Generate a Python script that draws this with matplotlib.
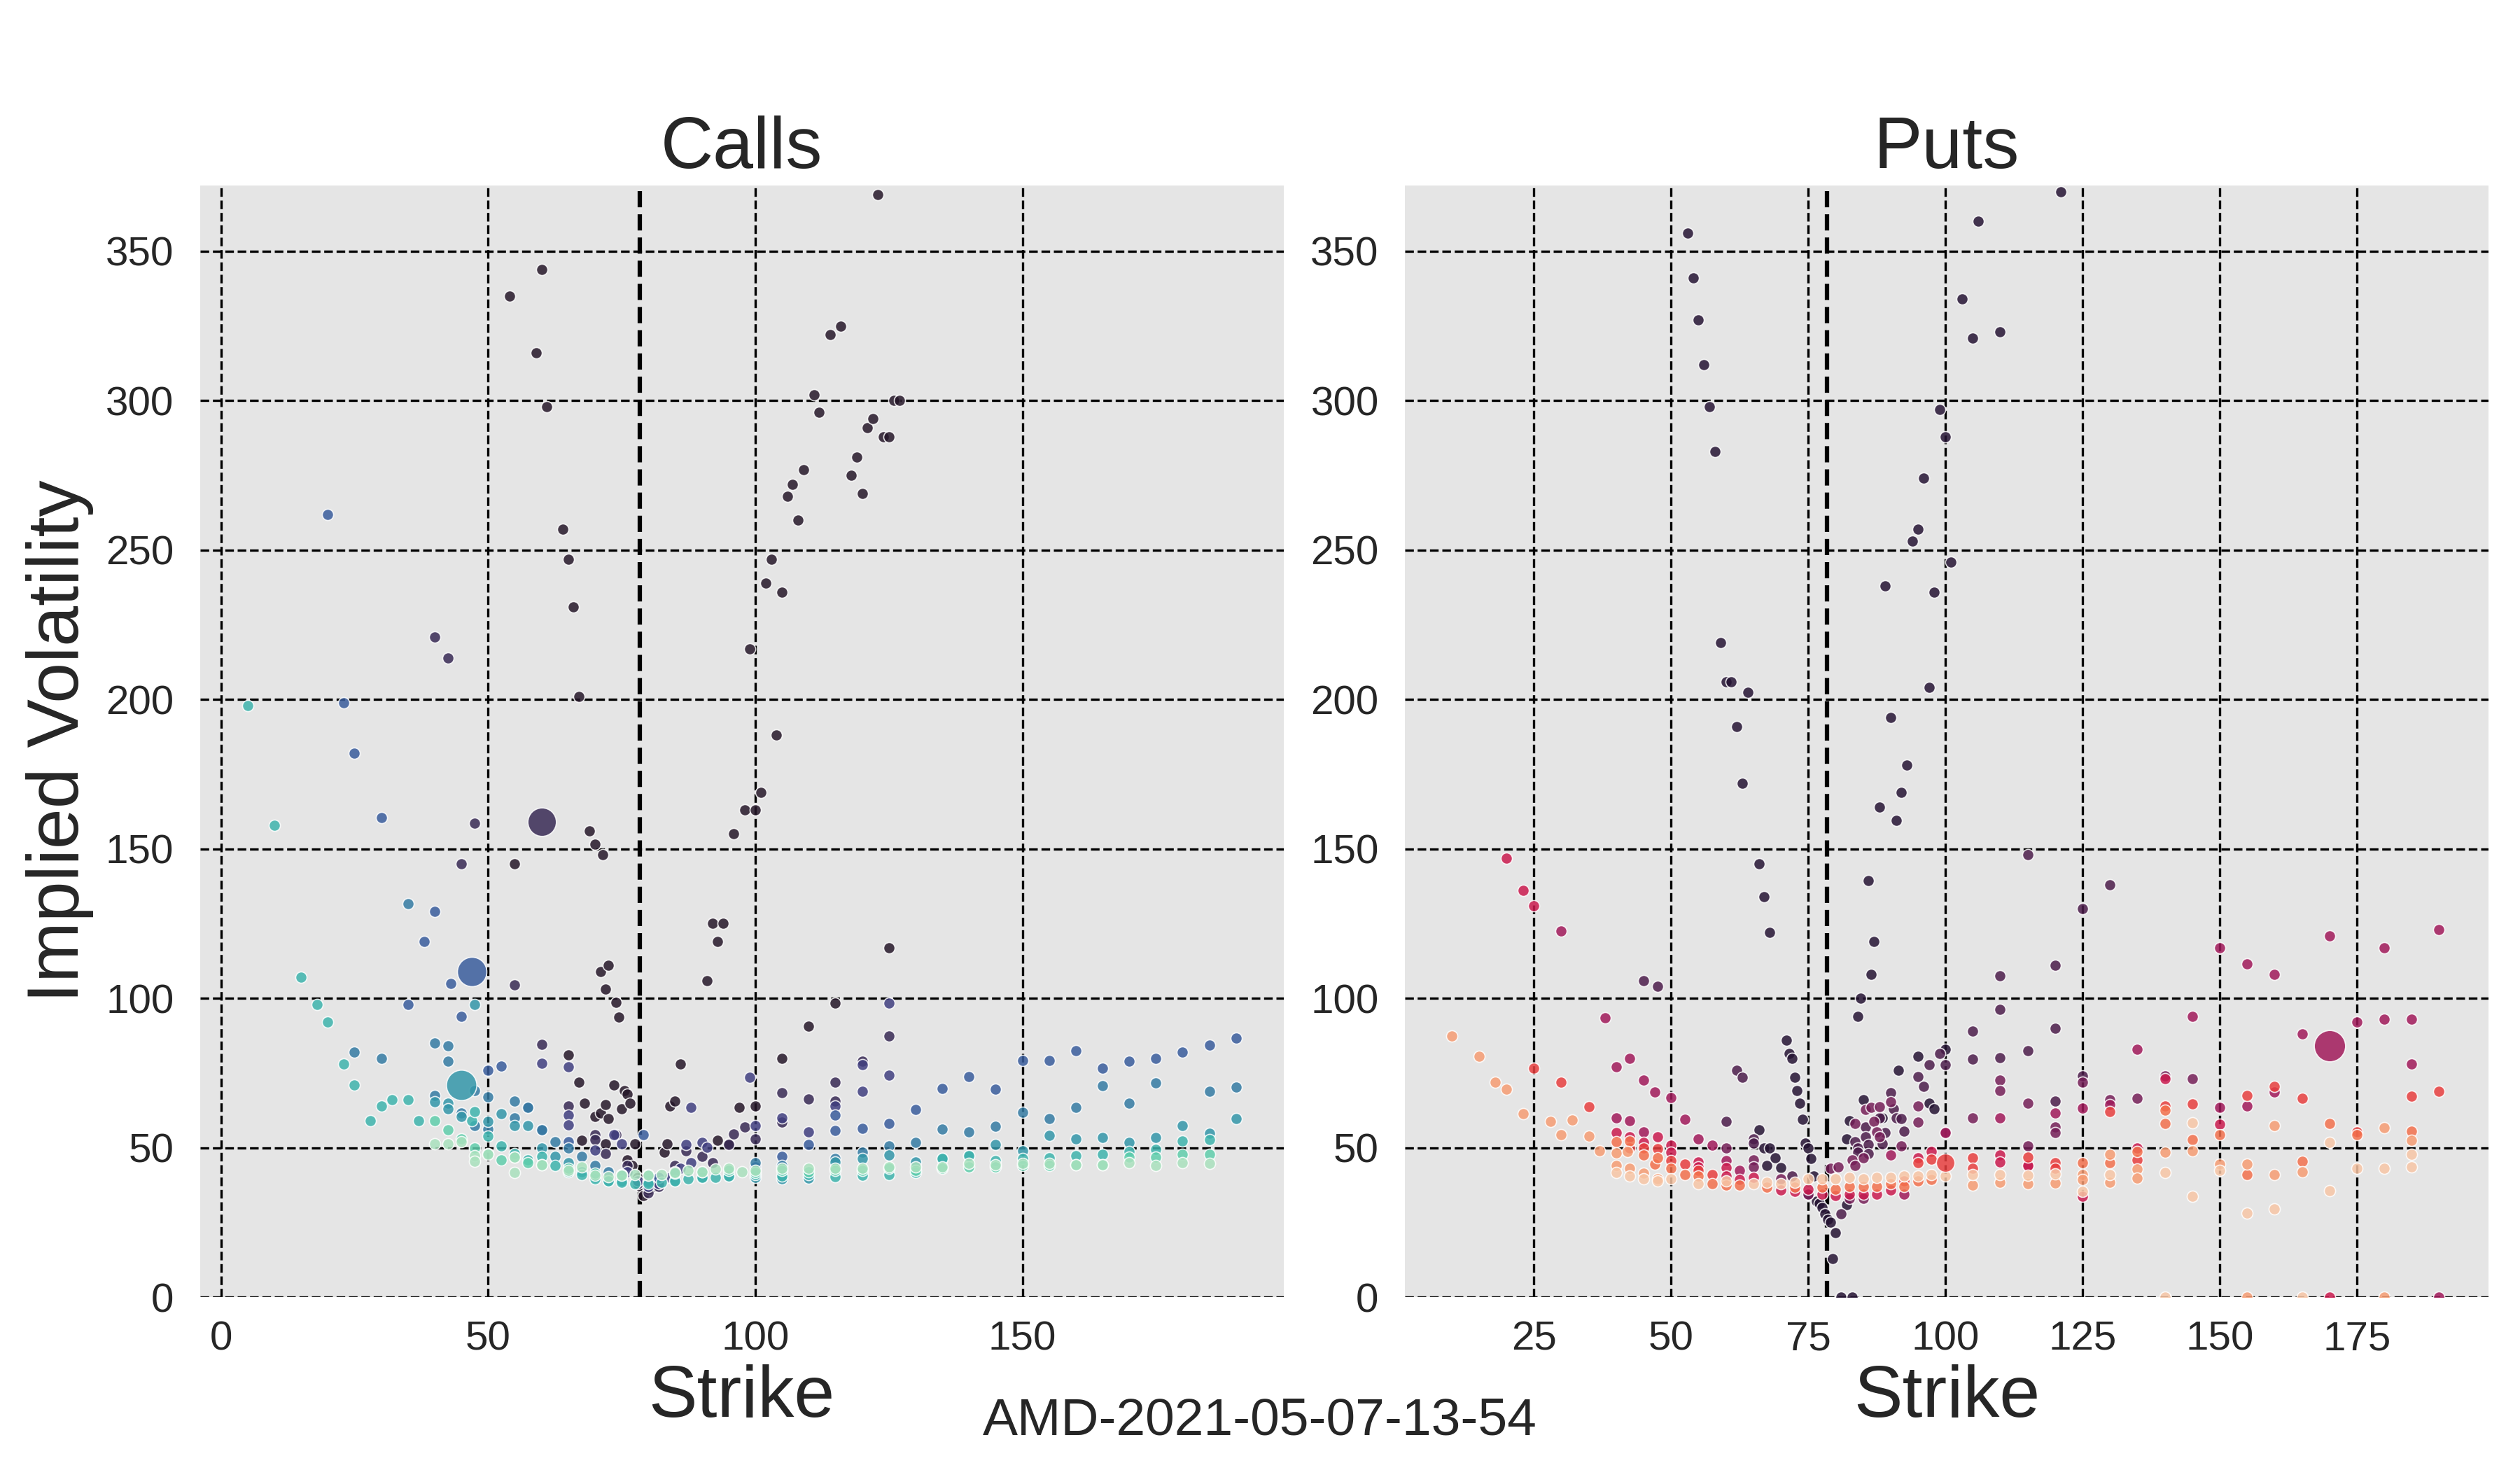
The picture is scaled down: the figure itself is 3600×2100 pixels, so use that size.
import matplotlib
matplotlib.use("Agg")
import matplotlib.pyplot as plt
import seaborn as sns
from matplotlib.colors import Normalize

plt.rcParams['font.family'] = ['Liberation Sans', 'DejaVu Sans']

snapshot = 'AMD-2021-05-07-13-54'
underlying = 78.4
expiries = ['2021-05-07', '2021-05-14', '2021-05-21', '2021-06-18', '2021-07-16',
            '2021-09-17', '2022-01-21', '2022-06-17', '2023-01-20']

# ---- calls, one strike / iv list per expiry ----
call_k0 = [54, 55, 59, 60, 61, 64, 65, 65, 66, 67, 67, 67.5, 68, 69, 70, 70, 71, 71, 71.5, 72,
           72, 72, 72.5, 72.5, 73.5, 74, 74.5, 75, 75.5, 76, 76, 76.5, 77, 77.5, 78, 78.5, 79, 80, 81, 82,
           83, 83.5, 84, 85, 86, 91, 92, 93, 93, 94, 95, 96, 97, 98, 99, 100, 100, 101, 102, 103,
           104, 105, 105, 106, 107, 108, 109, 110, 111, 112, 114, 115, 116, 118, 119, 120, 121, 122, 123, 124,
           125, 125, 126, 127]
call_iv0 = [335, 145, 316, 344, 298, 257, 247, 81, 231, 201, 72, 52.5, 65, 156, 151.5, 60.4, 109, 61.6, 148, 103,
            64.5, 51.4, 111, 59.8, 71, 98.6, 93.6, 63, 69, 68, 46, 65, 44, 51.4, 40, 37, 34, 36, 37, 39,
            48.5, 51.4, 64, 65.7, 78, 106, 125, 119, 52.5, 125, 51.4, 155, 63.4, 163, 217, 163, 64, 169, 239, 247,
            188, 236, 80, 268, 272, 260, 277, 90.7, 302, 296, 322, 98.5, 325, 275, 281, 269, 291, 294, 369, 288,
            288, 117, 300, 300]
call_k1 = [40, 42.5, 45, 47.5, 55, 60, 65, 70, 70, 72, 74, 76, 78, 80, 82, 85, 87, 90, 92, 95,
           96, 98, 100, 105, 105, 110, 115, 115, 120, 125]
call_iv1 = [221, 214, 145, 158.5, 104.5, 84.5, 63.9, 54.4, 52.6, 48, 54.4, 44, 38, 35, 37, 44, 49, 47, 45, 51,
            54.7, 57, 53, 68.5, 58.6, 66.3, 71.9, 65.7, 79, 87.5]
call_k2 = [60, 65, 65, 65, 70, 73.5, 75, 76, 78, 80, 82, 84, 86, 87, 88, 88, 90, 91, 99, 100,
           105, 110, 115, 120, 120, 125, 125]
call_iv2 = [78.2, 77, 60.8, 57.7, 49.3, 54.4, 51.4, 42, 39, 37, 38, 40, 43, 51.1, 63.4, 45, 51.8, 50.2, 73.5, 57.4,
            60, 55.3, 63.9, 77.8, 68.8, 98.5, 74.3]
call_k3 = [20, 23, 25, 30, 35, 38, 40, 43, 45, 50, 52.5, 57.5, 60, 65, 79, 80, 82, 85, 100, 105,
           110, 115, 115, 120, 125, 130, 135, 140, 145, 150, 155, 160, 165, 170, 175, 180, 185, 190]
call_iv3 = [262, 199, 182, 160.5, 98, 119, 129, 105, 94, 75.8, 77.2, 63.4, 56, 52, 54.4, 39, 40, 42, 43.6, 47.1,
            51, 55.7, 60.8, 56.5, 58, 62.7, 69.8, 73.7, 69.6, 79.3, 79.3, 82.5, 76.6, 78.9, 79.8, 82, 84.4, 86.8]
call_k4 = [25, 30, 35, 40, 40, 42.5, 42.5, 45, 47.5, 47.5, 50, 50, 55, 55, 57.5, 60, 62.5, 65, 67.5, 70,
           72.5, 75, 100, 105, 115, 120, 125, 130, 135, 140, 145, 150, 155, 160, 165, 170, 175, 185, 190]
call_iv4 = [82, 80, 131.6, 85, 67.4, 84, 79, 61.6, 69, 57.5, 67, 56.3, 65.5, 60, 63.4, 56, 52, 50, 47, 44,
            42, 41, 45, 44, 46.5, 48.5, 50.7, 51.8, 56.3, 55.3, 57.1, 61.8, 59.8, 63.5, 70.7, 64.8, 71.6, 68.8, 70.4]
call_k5 = [40, 42.5, 42.5, 45, 47.5, 50, 52.5, 55, 57.5, 60, 62.5, 65, 67.5, 70, 72.5, 75, 80, 85, 90, 95,
           100, 105, 110, 115, 120, 125, 130, 135, 140, 145, 150, 155, 160, 165, 170, 175, 180, 185, 190]
call_iv5 = [65.3, 65, 63, 60.4, 98, 58.8, 61.5, 57.5, 57.3, 50, 47, 45, 42, 40, 39, 39, 38.5, 39, 40, 40.5,
            40, 39.5, 39.9, 45.2, 46.5, 47.5, 45.2, 46.5, 47.3, 51.1, 48.9, 54.1, 53, 53.4, 51.8, 53.4, 57.4, 54.9, 59.8]
call_k6 = [5, 10, 15, 18, 20, 23, 25, 28, 30, 32, 35, 37, 47, 47.5, 50, 52.5, 55, 57.5, 60, 62.5,
           65, 67.5, 70, 72.5, 75, 77.5, 80, 82.5, 85, 87.5, 90, 92.5, 95, 100, 105, 110, 115, 120, 125, 130,
           135, 140, 145, 150, 155, 160, 165, 170, 175, 180, 185]
call_iv6 = [198, 158, 107, 98, 92, 78, 71, 59, 64, 66, 66, 59, 59, 62, 54, 50.5, 48, 46, 47, 44,
            42, 41, 39.5, 39, 38.5, 38, 38, 38.5, 39, 39.5, 40, 40, 40.5, 41, 40.5, 41, 40.3, 40.7, 41.1, 41.6,
            46.5, 47.3, 45.7, 46.5, 46.7, 47.3, 47.9, 48.7, 49.5, 52.2, 52.8]
call_k7 = [40, 42.5, 45, 47.5, 50, 52.5, 55, 57.5, 60, 65, 70, 75, 80, 85, 90, 95, 100, 105, 110, 115,
           120, 125, 130, 135, 140, 145, 150, 155, 160, 165, 170, 175, 180, 185]
call_iv7 = [59, 56, 53, 50, 48, 46, 46.9, 45, 44.4, 43, 41.5, 41, 41, 41.5, 42, 42.5, 41.6, 42.5, 42, 42.5,
            42.5, 43, 42.5, 43, 43.6, 43.5, 44, 44, 44.4, 44.2, 46.9, 46.9, 47.7, 47.9]
call_k8 = [40, 42.5, 45, 47.5, 47.5, 50, 55, 55, 60, 65, 67.5, 70, 72.5, 75, 77.5, 80, 82.5, 85, 87.5, 90,
           92.5, 95, 97.5, 100, 105, 110, 115, 120, 125, 130, 135, 140, 145, 150, 155, 160, 165, 170, 175, 180, 185]
call_iv8 = [51.4, 51.4, 52, 47.3, 45.5, 47.9, 41.7, 46.9, 44.4, 42.4, 43.6, 40.7, 40.3, 40.7, 41.1, 40.7, 41.1, 41.6, 42.4, 42,
            42.8, 43.2, 42, 42.5, 43, 43, 43.2, 43, 43.6, 43.6, 43.6, 44.8, 44.4, 44.8, 44.8, 44.4, 44.2, 45, 44, 45, 44.8]
# heavy volume contracts
call_big_k = [60, 47, 45]
call_big_iv = [159, 109, 71]
call_big_exp = [1, 3, 5]
call_big_vol = [4800, 5200, 5600]

# ---- puts ----
put_k0 = [53, 54, 55, 56, 57, 58, 59, 60, 61, 62, 63, 64, 66, 66, 67, 67, 67.5, 68, 68, 69,
          70, 71, 71.5, 72, 72.5, 73, 73.5, 74, 74.5, 75, 75.5, 76, 76.5, 77, 77.5, 78, 78.5, 79, 79.5, 80,
          81, 82, 82, 82.5, 83, 84, 84.5, 85, 86, 86.5, 87, 88, 88.5, 89, 90, 91, 91.5, 92, 93, 94,
          95, 95, 96, 97, 97, 98, 98, 99, 100, 100, 101, 103, 105, 106, 110, 121]
put_iv0 = [356, 341, 327, 312, 298, 283, 219, 206, 206, 191, 172, 202.5, 145, 56, 134, 50, 44, 122, 50, 46.6,
           43.4, 86, 81.5, 80, 73.5, 69, 65, 59.4, 51.6, 50, 46.4, 40.6, 32, 31.5, 30, 28, 26, 25, 13, 21.5,
           0, 31, 53, 59, 0, 94, 100, 66, 139.5, 108, 119, 164, 60, 238, 194, 159.5, 76, 169, 178, 253,
           257, 80.5, 274, 204, 65, 236, 63, 297, 288, 83, 246, 334, 321, 360, 323, 370]
put_k1 = [45, 47.5, 60, 62, 63, 65, 65, 72, 75, 81, 83.5, 84, 84, 85.5, 85.5, 86, 86, 88, 88.5, 89,
          90, 90.5, 91, 92, 92.5, 95, 96, 97, 99, 100, 105, 105, 110, 110, 110, 115, 115, 120, 120, 120,
          125, 125, 130]
put_iv1 = [106, 104, 58.8, 76, 73.5, 53, 51.6, 40.6, 34.5, 28, 52, 50, 48.4, 57, 53.6, 51, 48, 60, 51.4, 55,
           68.5, 63, 60, 59.8, 55.5, 73.7, 70.5, 77.7, 81.5, 77.7, 79.7, 89, 80.2, 96.4, 107.5, 82.5, 148, 90, 111, 65.6,
           130, 74, 138]
put_k2 = [60, 65, 65, 70, 75, 79, 80.5, 82.5, 83, 83.5, 83.5, 85, 85, 85.5, 86.5, 87, 87.5, 88, 88, 90,
          92, 95, 95, 100, 105, 110, 110, 115, 115, 120, 120, 125, 130, 135, 140, 145]
put_iv2 = [50, 46, 43.6, 39.7, 34.5, 43.2, 43.6, 33, 46, 44, 58, 46.6, 33, 62.7, 63.5, 58.8, 55.3, 63.7, 53.6, 65.3,
           50.5, 64, 58.5, 55, 60, 72.7, 69, 65, 50.7, 57, 55, 72, 66, 66.6, 74, 73]
put_k3 = [30, 38, 40, 40, 42.5, 42.5, 45, 45, 47, 50, 52.5, 55, 57.5, 60, 62.5, 90, 92.5, 100, 110, 115,
          120, 125, 130, 135, 145, 150, 150, 155, 155, 160, 160, 165, 170, 175, 180, 180, 185, 185, 190, 190]
put_iv3 = [122.5, 93.4, 77, 60, 80, 59, 72.7, 55.3, 68.7, 66.7, 59.6, 53, 50.8, 45.8, 42.3, 47.5, 34.5, 55, 60, 44,
           61.6, 63.3, 64.4, 83, 94, 117, 63.5, 111.6, 64, 108, 68.7, 88, 121, 92, 117, 93, 93, 78, 123, 0]
put_k4 = [20, 23, 25, 40, 42.5, 45, 47.5, 50, 50, 55, 55, 60, 60, 62.5, 65, 70, 72.5, 75, 77.5, 80,
          82.5, 85, 87.5, 90, 95, 97.5, 110, 110, 115, 125, 135, 140, 150, 170]
put_iv4 = [147, 136, 131, 55, 53.6, 51.8, 53.6, 50.8, 48.4, 45.3, 43.6, 43.3, 40.6, 39.3, 40, 35.8, 35.4, 36.2, 34.5, 34,
           34.5, 34.5, 34.5, 35.8, 46.6, 48.8, 47.5, 45.3, 44, 33.8, 50, 73, 57.9, 0]
put_k5 = [25, 30, 35, 42.5, 45, 47.5, 50, 52.5, 55, 57.5, 92.5, 95, 97.5, 105, 105, 115, 120, 120, 130, 135,
          140, 145, 155, 160, 165, 175, 185, 190]
put_iv5 = [76.6, 72, 63.7, 50, 49.8, 49.7, 45.8, 44.5, 42.3, 41, 38.8, 44.9, 46.2, 46.6, 43.2, 46.8, 45.1, 43.2, 62, 45.9,
           64, 64.6, 67.4, 70.5, 66.6, 55.3, 67.2, 68.9]
put_k6 = [40, 42.5, 45, 47, 47.5, 50, 52.5, 55, 57.5, 60, 62.5, 67.5, 72.5, 77.5, 80, 82.5, 85, 87.5, 90, 92.5,
          95, 97.5, 125, 130, 135, 140, 140, 145, 150, 155, 165, 170, 175, 185]
put_iv6 = [52, 52.3, 47.5, 44.5, 46.6, 43.2, 41, 40.6, 38, 37.5, 37.5, 36.7, 36.7, 36.7, 36.2, 37, 37, 37, 38, 37,
           38.8, 39.3, 45, 45, 48.8, 58, 62.6, 52.7, 54.4, 41, 45.5, 58, 54.4, 55.5]
put_k7 = [10, 15, 18, 20, 23, 28, 30, 32, 35, 37, 40, 40, 42, 42.5, 45, 47.5, 105, 110, 115, 120,
          125, 125, 130, 130, 135, 135, 140, 145, 150, 155, 155, 160, 160, 165, 180, 180, 185]
put_iv7 = [87.5, 80.7, 72, 69.6, 61.4, 58.9, 54.4, 59.3, 54, 49, 48.2, 44, 48.8, 43.2, 41.4, 39.7, 37.5, 38.4, 38, 38.2,
           41, 39.3, 47.7, 38.4, 42.9, 39.9, 48.4, 49, 44.5, 44.6, 0, 57.5, 41, 41.9, 56.6, 0, 52.5]
put_k8 = [40, 42.5, 45, 47.5, 50, 55, 60, 65, 67.5, 70, 72.5, 75, 77.5, 80, 82.5, 85, 87.5, 90, 92.5, 95,
          97.5, 100, 105, 110, 115, 120, 125, 130, 140, 140, 145, 145, 150, 155, 160, 165, 170, 170, 175, 180,
          185, 185]
put_iv8 = [41.6, 40.6, 39.7, 39, 39.7, 38, 38.8, 38, 38.4, 38, 38.4, 39.7, 39.7, 39.7, 40, 39.7, 40, 40, 40.6, 40.6,
           41, 40.6, 41, 41, 40.7, 41.2, 35.4, 41, 41.7, 0, 58.3, 33.8, 42.3, 28.2, 29.6, 0, 35.5, 51.8, 43.2, 43,
           47.9, 43.6]
put_big_k = [170, 100]
put_big_iv = [84, 44.9]
put_big_exp = [3, 5]
put_big_vol = [6000, 1500]

call_groups = [(call_k0, call_iv0), (call_k1, call_iv1), (call_k2, call_iv2), (call_k3, call_iv3),
               (call_k4, call_iv4), (call_k5, call_iv5), (call_k6, call_iv6), (call_k7, call_iv7),
               (call_k8, call_iv8)]
put_groups = [(put_k0, put_iv0), (put_k1, put_iv1), (put_k2, put_iv2), (put_k3, put_iv3),
              (put_k4, put_iv4), (put_k5, put_iv5), (put_k6, put_iv6), (put_k7, put_iv7),
              (put_k8, put_iv8)]

norm = Normalize(vmin=-1, vmax=len(expiries))
txt = '#262626'


def draw(ax, groups, big, cmap, title, xlim, xticks):
    ax.set_facecolor('#e5e5e5')
    for i, (k, iv) in enumerate(groups):
        ax.scatter(k, iv, s=15, color=cmap(norm(i)), alpha=0.85,
                   edgecolor='white', linewidth=0.4, zorder=3, label=expiries[i])
    bk, biv, bexp, bvol = big
    for k, iv, e, v in zip(bk, biv, bexp, bvol):
        ax.scatter([k], [iv], s=15 + v / 60, color=cmap(norm(e)), alpha=0.85,
                   edgecolor='white', linewidth=0.4, zorder=4)
    ax.axvline(underlying, color='black', linestyle='--', linewidth=1.5, zorder=2.5)
    ax.grid(True, color='black', linestyle='--', linewidth=0.8)
    ax.set_axisbelow(True)
    for sp in ax.spines.values():
        sp.set_visible(False)
    ax.set_xlim(*xlim)
    ax.set_ylim(0, 372)
    ax.set_xticks(xticks)
    ax.set_yticks(range(0, 351, 50))
    ax.tick_params(length=0, labelsize=14, labelcolor=txt)
    ax.tick_params(axis='y', pad=9)
    ax.tick_params(axis='x', pad=8)
    ax.set_title(title, fontsize=25, color=txt)
    ax.set_xlabel('Strike', fontsize=25, color=txt, labelpad=2)


fig, (ax1, ax2) = plt.subplots(1, 2, figsize=(12, 7), dpi=300)
fig.subplots_adjust(left=0.0794, right=0.9875, bottom=0.1176, top=0.8738, wspace=0.112)

draw(ax1, call_groups, (call_big_k, call_big_iv, call_big_exp, call_big_vol),
     sns.color_palette('mako', as_cmap=True), 'Calls', (-3.9, 198.9), [0, 50, 100, 150])
draw(ax2, put_groups, (put_big_k, put_big_iv, put_big_exp, put_big_vol),
     sns.color_palette('rocket', as_cmap=True), 'Puts', (1.5, 199), [25, 50, 75, 100, 125, 150, 175])
ax1.set_ylabel('Implied Volatility', fontsize=25, color=txt)

fig.text(0.5, 0.024, snapshot, ha='center', va='baseline', fontsize=18, color=txt)

fig.savefig('out.png', dpi=300)
